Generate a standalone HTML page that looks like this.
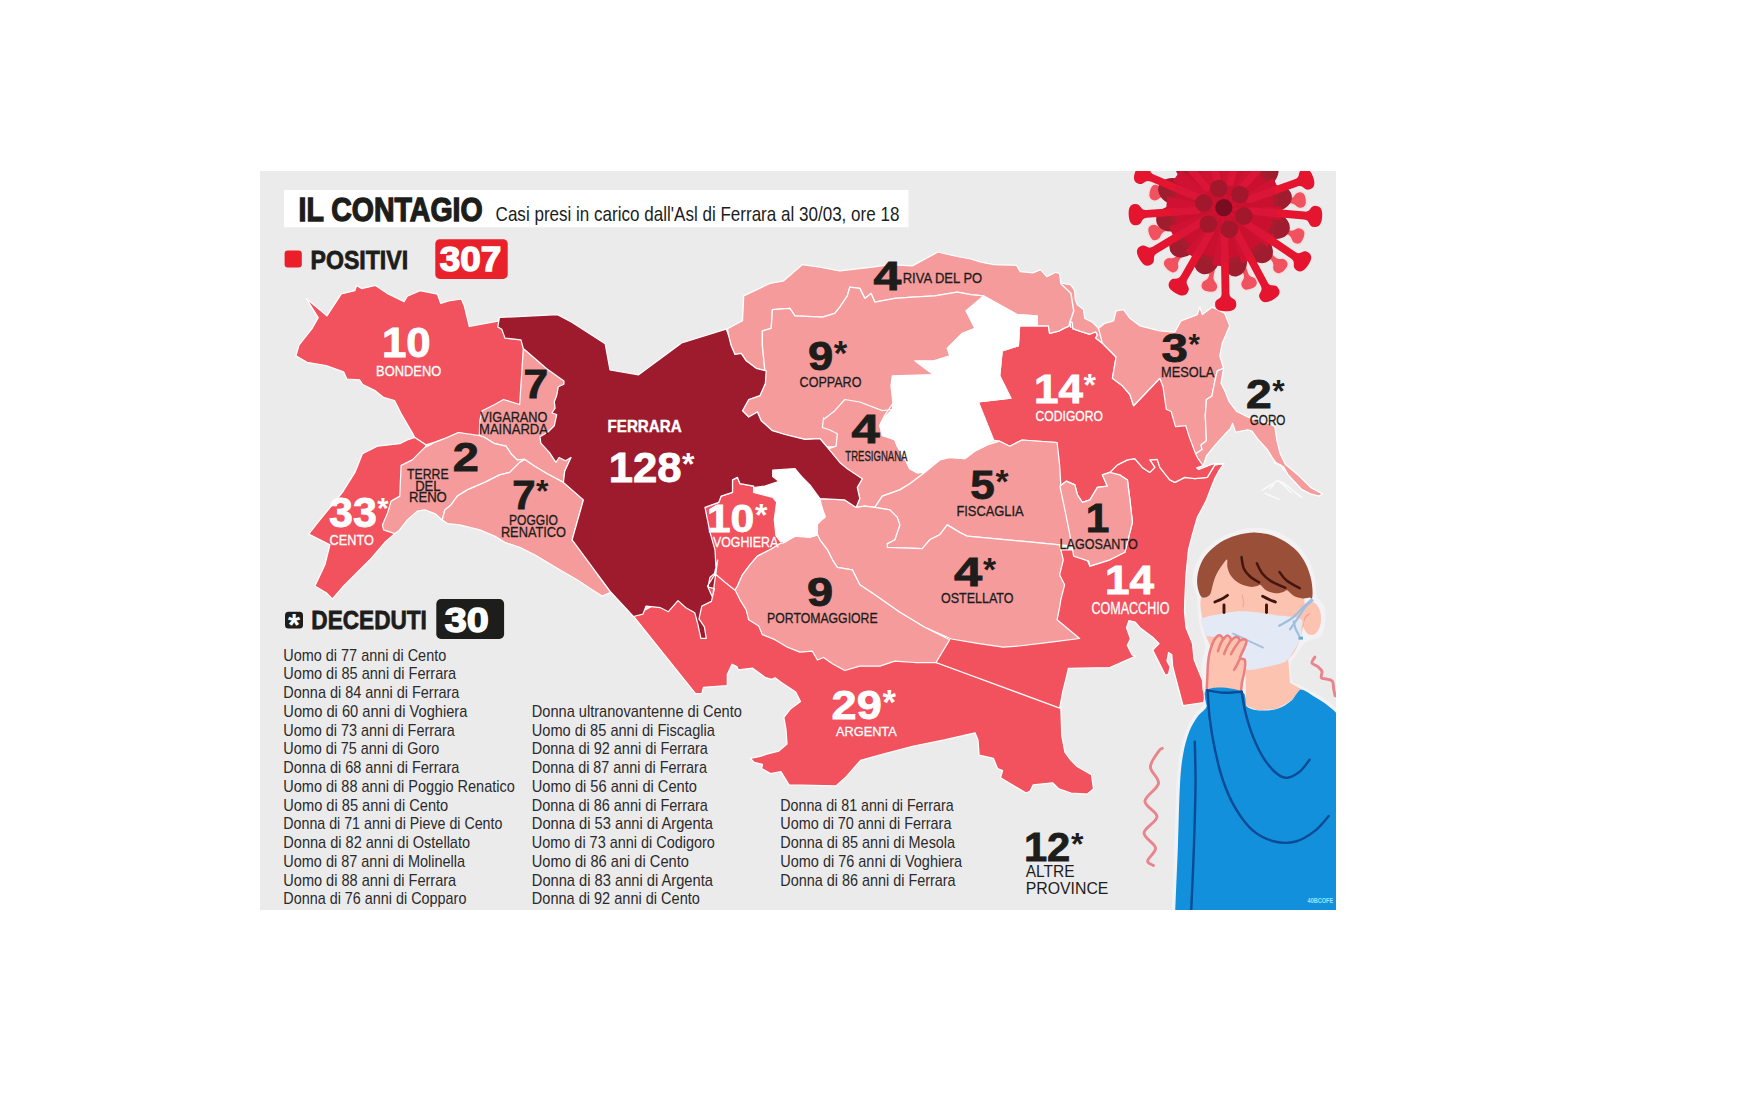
<!DOCTYPE html>
<html lang="it"><head><meta charset="utf-8"><title>Il contagio - Ferrara</title>
<style>
html,body{margin:0;padding:0;background:#fff;}
body{width:1762px;height:1106px;overflow:hidden;position:relative;font-family:"Liberation Sans",sans-serif;}
svg{position:absolute;left:0;top:0;display:block}
text{font-family:"Liberation Sans",sans-serif;}
.b{font-weight:bold}
</style></head><body>
<svg width="1762" height="1106" viewBox="0 0 1762 1106">
<defs><clipPath id="panel"><rect x="260" y="171" width="1076" height="739"/></clipPath></defs>
<rect x="0" y="0" width="1762" height="1106" fill="#ffffff"/>
<rect x="260" y="171" width="1076" height="739" fill="#ecebec"/>
<g clip-path="url(#panel)">
<g stroke="#ffffff" stroke-width="1.25" stroke-linejoin="round">
<polygon id="r-bondeno" fill="#f1525d" points="306.3,298.6 326.9,315.8 341.3,293.9 354.8,290.7 356.7,285.4 361.5,288.6 375.5,285.4 388.2,293.9 404.1,301.8 407.3,296.3 420,290.7 437.5,294.2 440.7,303.4 448.6,301 461.4,299 464.5,306.6 469.3,326.5 498,321.2 509.7,320.8 529.7,340.8 529.7,357 534.7,404.5 519.7,420.7 484.7,440 479.3,437.5 458.5,432.5 447.3,437.5 434.8,442 426.1,444.9 414.8,437.5 412,432.3 400.9,413.2 397.7,406.8 394.5,400.5 383.4,397.3 375.5,390.9 362.7,384.5 359.5,379.8 346.8,379 343.6,371.8 326.1,365.5 307,362.3 295.9,355.9 299.1,344.8 311.8,328.9 318.2,317.7"/>
<polygon id="r-cento" fill="#f1525d" points="362.4,453.7 377.4,446.2 399.8,443.7 407.3,440 414.8,437.5 426.1,444.9 419.8,464.9 409.8,499.9 399.8,529.9 394.8,533.6 384.9,542.3 369.9,559.8 354.9,574.8 342.4,587.3 332.4,599 326.2,592.8 314.9,586 324.9,564.8 329.9,544.8 308.7,534.1 319.9,519.9 342.4,492.4 354.9,472.4"/>
<polygon id="r-argenta" fill="#f1525d" points="600,574.3 633.4,616.5 663.6,599.8 701.8,599.8 701.8,560 743.2,560 779.9,543.6 799.9,574.8 949.7,639.7 936,662.5 1060.8,707.2 1061.8,735.8 1064.9,752.2 1071,760.3 1077.1,766.5 1091.5,774.6 1093.5,788.9 1087.4,794.1 1071,793 1058.8,788.9 1052.6,782.8 1033.2,784.9 1030.2,791 1026.1,793 1000.5,777.7 1002.6,770.6 997.5,768.5 993.4,758.3 979.1,755.2 978,739.9 975,732.8 944.3,739.9 913.7,746 883,754.2 860.6,760.3 846.3,776.7 836,785.9 789,784.9 780.9,771.6 770.6,773.6 761.5,768.5 762.5,764.4 754.3,762.4 750.2,758.3 760.4,756.3 766.6,754.2 778.8,751.1 787,744 786,729.7 783.9,717.4 790.1,709.3 800.5,701.6 795.7,692 781.4,682.5 775,677.7 771.8,679.3 765.5,677.7 752.7,668.2 738.4,669.8 736.8,666.6 732,664.2 727.3,674.5 727.3,685.7 703.4,687.3 701.8,693.6 695.5,693.6"/>
<polygon id="r-voghiera" fill="#f1525d" points="737.5,477.4 740,483.7 753.7,486.2 764.9,489.9 782.4,499.9 779.9,509.9 782.4,519.9 783.7,534.8 783.7,543.6 769.9,549.8 757.4,556.1 749.9,564.8 742.5,574.8 737.5,586 735,590.3 725,582.3 716.2,574.8 707.5,586 700,589.8 700,504.9 705,507.4 718.7,502.4 721.2,496.1 732.5,492.4 732.5,479.9"/>
<polygon id="r-comacchio" fill="#f1525d" points="1102.4,474.9 1109.9,472.4 1117.4,464.9 1127.4,459.9 1134.8,458.7 1142.3,467.4 1149.8,472.4 1154.8,467.4 1149.8,459.9 1157.3,459.4 1159.8,467.4 1169.8,479.9 1174.8,482.4 1184.8,477.4 1194.8,478.7 1207.3,477.4 1214.8,464.9 1223.8,463.6 1219.4,470.1 1215.1,477.7 1210.8,488.5 1206,501.1 1197.3,517.4 1192.3,534.8 1188.5,549.8 1186,574.8 1184.8,599.8 1184.5,611.8 1186.1,627.7 1192.5,643.6 1194.1,659.5 1200.5,675.5 1206.8,689.8 1203.6,702.5 1183,705.7 1175,675.5 1172.6,665.9 1171.8,654.8 1168.6,652.4 1167,661.1 1170.2,666.7 1168.6,673.9 1165.5,675.5 1159.1,662.7 1152.7,650 1159.1,643.6 1152.7,637.3 1140,627.7 1135.2,622.2 1128.9,620.6 1126.5,627.7 1130.5,638.9 1127.3,645.2 1132,654.8 1135.2,656.4 1109.8,667.5 1068.4,668.3 1066.8,675.5 1062.8,691.4 1059.7,708.1 936,662.5 949.7,624.7 1049.6,624.7 1049.6,549.8 1082.4,549.8 1089.9,566.1 1109.9,559.8 1124.9,552.3 1132.4,522.4 1129.9,499.9 1127.4,479.9 1119.9,474.9"/>
<polygon id="r-codigoro" fill="#f1525d" points="1019.6,325.8 1048.4,325.8 1049.6,333.3 1059.6,330.8 1063.3,328.6 1069,326.1 1069.6,321.6 1072.2,322.3 1072.8,328.6 1079.7,331.1 1089.9,334.3 1095.6,331.8 1097.5,334.9 1095.6,338.1 1102.4,343.3 1109.9,350.8 1116.1,357 1112.4,378.3 1122.4,385.8 1129.9,394.5 1133.6,405.7 1159.8,378.3 1182.6,401.7 1204.3,423.4 1206.4,456 1203.2,465.7 1196.7,467.9 1198.8,469.5 1210.8,464.6 1215.1,463.6 1223.8,463.6 1214.8,464.9 1207.3,477.4 1194.8,478.7 1184.8,477.4 1174.8,482.4 1169.8,479.9 1159.8,467.4 1157.3,459.4 1149.8,459.9 1154.8,467.4 1149.8,472.4 1142.3,467.4 1134.8,458.7 1127.4,459.9 1117.4,464.9 1109.9,472.4 1102.4,474.9 1107.4,486.2 1097.4,487.4 1089.9,499.9 1082.4,502.4 1077.4,494.9 1074.9,484.9 1066.2,481.2 1059.9,486.2 1049.9,474.9 1057.1,442.5 1022.1,440 1009.7,446.2 999.7,441.2 993.4,440 977.2,400 978.4,402 1010.9,398.2 999.7,375.8 1002.2,350.8 1018.4,345.8"/>
<polygon id="r-riva" fill="#f59b9c" points="727.5,328.8 742.5,320.8 743.7,295.9 769.9,283.4 783.7,280.9 802.4,264.6 819.9,267.1 839.8,270.9 872.3,267.1 889.8,264.6 912.3,265.9 938,252 957,256.5 970.9,259 981,262.2 993.7,264.7 1016.5,265.3 1020.3,271.6 1032.9,272.9 1040.5,269.7 1046.8,276.7 1055.7,272.3 1059.5,273.5 1060.8,283 1070.9,284.9 1074.7,290.6 1075.3,299.5 1077.2,304.6 1083.5,309.6 1084.8,318.5 1092.4,322.3 1097.5,327.3 1099.9,330.8 1102.4,343.3 1095.6,338.1 1097.5,334.9 1095.6,331.8 1089.9,334.3 1079.7,331.1 1072.8,328.6 1072.2,322.3 1069.6,321.6 1069,326.1 1063.3,328.6 1059.6,330.8 1049.6,333.3 1048.4,325.8 1037.1,325.8 1037.1,315.8 1017.1,314.6 983.4,295.9 970.9,294.6 957.2,292.1 934.7,295.9 912.3,297.1 894.8,298.4 874.8,302.1 871.1,293.4 864.8,298.4 859.8,288.4 849.8,287.1 847.3,295.9 839.8,307.1 834.8,313.3 822.4,317.1 794.9,315.8 789.9,308.3 772.4,309.6 771.2,328.3 762.4,330.8 762.4,345.8 764.9,370.8 756.2,368.3 746.2,360.8 741.2,353.3 735,354.5 731.2,345.8 728.7,335.8"/>
<polygon id="r-copparo" fill="#f59b9c" points="970.9,294.6 957.2,292.1 934.7,295.9 912.3,297.1 894.8,298.4 874.8,302.1 871.1,293.4 864.8,298.4 859.8,288.4 849.8,287.1 847.3,295.9 839.8,307.1 834.8,313.3 822.4,317.1 794.9,315.8 789.9,308.3 772.4,309.6 771.2,328.3 762.4,330.8 762.4,345.8 764.9,370.8 765.4,383.3 759.9,395.7 748.7,399.5 742.5,410.7 748.7,417 757.4,412 761.2,420.7 772.4,430.7 784.9,434.5 804.9,439.4 819.9,438.7 827.4,446.9 849.8,446.9 874.8,420.7 899.8,410.7 934.7,375.8 949.7,355.8 974.7,328.3 983.4,295.9"/>
<polygon id="r-tresignana" fill="#f59b9c" points="892.3,409.5 882.3,410.7 859.8,402 844.8,399.5 834.8,410.7 823.6,419.5 823.6,417.5 822.4,427.5 829.9,430 837.3,433.7 836.1,446.2 824.9,449.9 819.9,462.4 862.3,478.7 857.3,487.4 859.8,498.6 856.1,507.4 864.8,506.1 874.8,507.4 882.3,496.1 899.8,489.9 909.8,483.7 924.7,472.4 917.3,472.9 909.8,468.7 904.8,458.7 897.3,446.2 894.8,440 882.3,435 879.8,425 884.8,415 893.5,402.5"/>
<polygon id="r-mesola" fill="#f59b9c" points="1098.6,328.3 1104.9,323.3 1113.6,320.8 1116.1,310.8 1123.6,309.6 1129.9,318.3 1139.8,325.8 1159.8,330.8 1174.8,332.1 1181,320.8 1197.3,314.6 1199.8,307.1 1202.3,314.6 1212.3,307.1 1224.7,313.3 1229.7,325.8 1222.2,343.3 1219.8,355.8 1223.5,368.3 1217.3,370.8 1215.1,380 1211.8,396.3 1206.4,399.5 1205.3,415.8 1206.4,440.8 1201,445.1 1202.1,449.4 1195.6,453.8 1189.1,436.4 1185.8,425.6 1175.5,426.7 1171.2,411.5 1166.3,409.3 1163,386.5 1159.8,378.3 1133.6,405.7 1129.9,394.5 1122.4,385.8 1112.4,378.3 1116.1,357 1109.9,350.8 1102.4,343.3"/>
<polygon id="r-goro" fill="#f59b9c" points="1223.5,368.3 1221,383.3 1224.9,390.9 1229.2,401.7 1236.8,411.5 1247.7,416.9 1258.5,421.2 1269.4,423.4 1274.8,426.7 1277,440.8 1280.2,453.8 1285.6,464.6 1298.7,475.5 1310.6,487.4 1322.5,493.9 1319.3,496.1 1310.6,493.9 1301.9,489.6 1287.8,474.4 1283.5,466.8 1275.9,462.5 1272.6,458.1 1267.2,449.4 1257.4,438.6 1252,431 1247.7,429.9 1235.7,432.1 1232.5,423.4 1230.3,428.8 1224.9,434.3 1215.1,445.1 1206.4,456 1203.2,465.7 1197.7,458.1 1195.6,453.8 1202.1,449.4 1201,445.1 1206.4,440.8 1205.3,415.8 1206.4,399.5 1211.8,396.3 1215.1,380 1217.3,370.8"/>
<polygon id="r-fiscaglia" fill="#f59b9c" points="874.8,507.4 882.3,496.1 899.8,489.9 909.8,483.7 924.7,472.4 939.7,459.9 949.7,457.4 964.7,458.7 974.7,451.2 987.2,444.9 999.7,441.2 1009.7,446.2 1022.1,440 1057.1,442.5 1059.6,464.9 1060.8,484.9 1067.1,504.9 1072.1,524.9 1074.6,546.1 1059.6,544.8 967.2,536.1 959.7,532.4 947.2,524.9 939.7,534.8 929.7,539.8 922.2,548.6 887.3,547.3 887.3,543.6 894.8,539.8 897.3,532.4 899.8,524.9 897.3,517.4 889.8,509.9"/>
<polygon id="r-lagosanto" fill="#f59b9c" points="1059.9,486.2 1066.2,481.2 1074.9,484.9 1077.4,494.9 1082.4,502.4 1089.9,499.9 1097.4,487.4 1107.4,486.2 1102.4,474.9 1109.9,472.4 1119.9,474.9 1127.4,479.9 1129.9,499.9 1132.4,522.4 1124.9,552.3 1109.9,559.8 1089.9,566.1 1088.7,561.1 1073.7,556.1 1069.9,534.8 1064.9,509.9"/>
<polygon id="r-ostellato" fill="#f59b9c" points="819.9,498.6 844.8,499.9 856.1,507.4 864.8,506.1 874.8,507.4 889.8,509.9 897.3,517.4 899.8,524.9 897.3,532.4 894.8,539.8 887.3,543.6 887.3,547.3 922.2,548.6 929.7,539.8 939.7,534.8 947.2,524.9 959.7,532.4 967.2,536.1 1059.6,544.8 1063.3,559.8 1059.6,574.8 1064.6,584.8 1060.8,599.8 1059.6,607.3 1057.1,619.8 1079.6,638.5 1050.9,642.2 1019.1,646 1003.2,647.2 979.2,643.7 951.5,639 924.7,627.2 899.8,612.3 874.8,594.8 859.8,584.8 852.3,569.8 837.3,567.3 832.4,559.8 827.4,549.8 819.9,539.8 817.4,534.8 817.4,522.4 824.9,517.4 822.4,509.9"/>
<polygon id="r-portomaggiore" fill="#f59b9c" points="735,589.8 737.5,586 742.5,574.8 749.9,564.8 757.4,556.1 769.9,549.8 779.9,543.6 784.9,542.3 794.9,536.1 809.9,537.3 817.4,534.8 819.9,539.8 827.4,549.8 832.4,559.8 837.3,567.3 852.3,569.8 859.8,584.8 874.8,594.8 899.8,612.3 924.7,627.2 949.7,639.7 936,662.5 914.8,662.5 894.8,661.2 879.8,666.2 859.8,666.2 844.8,670.5 832.4,663.7 823.6,657.5 817.4,660 812.4,651.2 799.9,652.2 787.4,647.2 774.9,639.7 762.4,634.7 758.7,626 748.7,619.8 746.2,609.8 740,599.8"/>
<polygon id="r-vigarano" fill="#f59b9c" points="523.3,348.5 546.4,368.4 568.6,381.1 568.6,411.4 559.1,427.3 552.7,443.2 565.5,459.1 570.9,457.9 564.7,471.2 563.4,482.4 547.2,473.7 534.7,466.2 524.7,459.4 517.2,459.9 511,453.7 506,446.2 494.7,443.7 484.7,437.5 479.3,436 479.8,420.7 482.2,410.7 494.7,404.5 503.5,399.5 519.7,404.5"/>
<polygon id="r-terre" fill="#f59b9c" points="412.3,459.9 424.8,447.4 434.8,442.5 447.3,437.5 458.5,432.5 479.8,435.7 484.7,437.5 494.7,443.7 506,446.2 511,453.7 517.2,459.9 524.7,459.4 519.7,462.4 509.7,472.4 499.7,474.9 484.7,482.4 467.3,489.9 457.3,496.1 451,504.9 444.8,509.9 442.3,519.9 434.8,513.6 424.8,509.9 417.3,511.1 407.3,519.9 398.6,531.1 394.8,533.6 383.6,529.9 382.4,524.9 387.4,513.6 391.1,501.1 399.8,496.1 401.1,465.4"/>
<polygon id="r-poggio" fill="#f59b9c" points="524.7,459.4 534.7,466.2 547.2,473.7 563.4,482.4 583.4,499.9 572.1,539.8 579.6,547.3 589.6,562.3 599.6,577.3 610.9,592.3 602.1,596 592.1,589.8 577.1,579.8 559.7,569.8 547.2,562.3 534.7,554.8 519.7,547.3 504.7,542.3 494.7,536.1 479.8,529.9 459.8,524.9 447.3,523.6 442.3,519.9 444.8,509.9 451,504.9 457.3,496.1 467.3,489.9 484.7,482.4 499.7,474.9 509.7,472.4 519.7,462.4"/>
<polygon id="r-ferrara" fill="#9e1b2e" points="499.4,317.5 557.5,314.6 571.8,322.3 605.2,343.8 610,370 638.6,374.8 681.6,343 727.7,328.6 726.2,328.8 728.7,335.8 731.2,345.8 735,354.5 741.2,353.3 746.2,360.8 756.2,368.3 766.2,370.8 765.4,383.3 759.9,395.7 748.7,399.5 742.5,410.7 748.7,417 757.4,412 761.2,420.7 772.4,430.7 784.9,434.5 804.9,439.4 819.9,438.7 827.4,447.4 839.8,462.4 847.3,468.7 862.3,478.7 857.3,487.4 859.8,498.6 856.1,507.4 844.8,499.9 819.9,498.6 809.9,484.9 799.9,474.9 792.4,469.4 785.5,479.8 772.7,487.7 753.6,488.5 753.7,486.2 740,483.7 737.5,477.4 732.5,479.9 732.5,492.4 721.2,496.1 718.7,502.4 705,507.4 710,532.4 715,549.8 716.2,572.3 707.5,586 712.5,597.3 717.7,560 714.5,573.5 709.8,577.5 708.2,587 714.5,588.6 711.4,601.4 701.8,606.1 699,618.9 704.4,626.8 706.3,638.3 700.9,638.3 697.7,623.6 694.8,612.8 685.9,607.7 678,600.6 668.4,611.7 660.5,607.7 646.1,606.1 643,614.1 633.4,616.5 610.9,592.3 572.1,539.8 583.4,499.9 563.4,482.4 564.7,471.2 571,457.5 565.5,460.7 559.1,457.5 555.9,462.3 549.5,452.7 540.8,443.2 540,436.8 548,432 554.3,425.7 556.7,414.5 551.9,413 555.1,408.2 554.3,401.8 556.7,395.5 558.3,386.7 563.9,384.3 563.9,381.1 546.4,368.4 523.3,348.5 520.9,339.8 505,338.2 501.8,329.4 497.8,327"/>
<polygon id="r-jolanda" fill="#ffffff" points="983.4,295.9 1017.1,314.6 1037.1,315.8 1037.1,325.8 1019.6,325.8 1018.4,345.8 1002.2,350.8 999.7,375.8 1010.9,398.2 978.4,402 993.4,439.4 987.2,444.9 974.7,451.2 964.7,458.7 949.7,457.4 939.7,459.9 924.7,471.2 917.3,472.9 909.8,468.7 904.8,458.7 897.3,446.2 894.8,439.4 882.3,435.7 879.8,425.7 884.8,417 893.5,408.2 891,385.8 892.3,375.8 933.5,374.5 929.7,372 914.8,360.8 933.5,360.8 949.7,355.8 947.2,348.3 962.2,333.3 974.7,328.3 966,310.8 974.7,303.4"/>
<polygon id="r-masi" fill="#ffffff" points="772.7,470.2 795,468.6 807.7,484.5 818.9,498.9 825.2,516.4 817.3,524.3 816.5,535.5 807.7,537 799.8,534.7 785.5,540.2 780.7,541.8 775.9,535.5 774.3,519.5 776.7,502 772.7,497.3 753.6,492.5 753.6,487.7 764.8,486.1 779.1,481.4 772.7,476.6"/>
</g>
<g fill="none" stroke="#fbfafa" stroke-width="1.5" stroke-linejoin="round" stroke-linecap="round">
<polyline points="1262.3,490.1 1277.5,480.7 1284,483.1 1294.3,491.8 1301.9,497.7"/>
<polyline points="1265,493.4 1279.1,499.4"/>
<polyline points="1269.9,488.5 1273.7,484.4"/>
<polyline points="1273.7,462.7 1280.2,464.9 1284,470.3"/>
<polyline points="1278,480.4 1285.6,486.9 1291.1,492.8"/>
<polyline points="1060.8,283.7 1070.9,293.2 1073.7,310.9 1069.9,322.3 1070.9,327.3"/>
</g>
<g id="virus">
<path d="M1263.4,201.0 L1289.2,198.1 C1296.0,197.3 1292.3,192.2 1299.1,191.4 C1303.8,190.9 1305.9,193.9 1306.5,199.2 C1307.1,204.5 1305.8,208.0 1301.0,208.5 C1294.3,209.3 1296.7,203.5 1289.9,204.2 L1264.1,207.1 A3.1,3.1 0 0 1 1263.4,201.0Z" fill="#f0525f" stroke="#f6dfe1" stroke-width="1.6" stroke-linejoin="round"/>
<path d="M1262.6,219.5 L1289.3,229.5 C1295.7,231.8 1294.7,225.6 1301.1,228.0 C1305.5,229.6 1306.0,233.3 1304.1,238.3 C1302.3,243.3 1299.5,245.8 1295.1,244.1 C1288.7,241.7 1293.5,237.7 1287.1,235.3 L1260.4,225.3 A3.1,3.1 0 0 1 1262.6,219.5Z" fill="#f0525f" stroke="#f6dfe1" stroke-width="1.6" stroke-linejoin="round"/>
<path d="M1254.2,234.9 L1275.2,256.3 C1279.9,261.2 1281.7,255.2 1286.5,260.0 C1289.8,263.4 1288.7,266.9 1284.9,270.7 C1281.1,274.4 1277.5,275.5 1274.2,272.1 C1269.4,267.2 1275.5,265.5 1270.8,260.7 L1249.8,239.2 A3.1,3.1 0 0 1 1254.2,234.9Z" fill="#f0525f" stroke="#f6dfe1" stroke-width="1.6" stroke-linejoin="round"/>
<path d="M1239.6,245.4 L1248.7,272.5 C1250.8,278.9 1255.1,274.3 1257.2,280.7 C1258.7,285.2 1256.2,287.9 1251.1,289.6 C1246.1,291.3 1242.4,290.7 1240.9,286.2 C1238.8,279.7 1245.0,280.9 1242.8,274.4 L1233.8,247.4 A3.1,3.1 0 0 1 1239.6,245.4Z" fill="#f0525f" stroke="#f6dfe1" stroke-width="1.6" stroke-linejoin="round"/>
<path d="M1219.6,248.4 L1214.4,276.2 C1213.1,282.9 1219.1,280.9 1217.8,287.6 C1216.9,292.2 1213.4,293.3 1208.2,292.3 C1202.9,291.3 1200.0,289.0 1200.9,284.4 C1202.2,277.7 1207.0,281.7 1208.3,275.0 L1213.5,247.2 A3.1,3.1 0 0 1 1219.6,248.4Z" fill="#f0525f" stroke="#f6dfe1" stroke-width="1.6" stroke-linejoin="round"/>
<path d="M1199.0,239.9 L1180.6,259.6 C1175.9,264.6 1182.0,266.1 1177.4,271.1 C1174.2,274.6 1170.6,273.6 1166.7,269.9 C1162.8,266.3 1161.6,262.8 1164.8,259.3 C1169.5,254.4 1171.4,260.4 1176.0,255.4 L1194.5,235.6 A3.1,3.1 0 0 1 1199.0,239.9Z" fill="#f0525f" stroke="#f6dfe1" stroke-width="1.6" stroke-linejoin="round"/>
<path d="M1187.2,224.5 L1165.4,231.9 C1159.0,234.2 1163.7,238.4 1157.3,240.6 C1152.8,242.1 1150.1,239.6 1148.4,234.5 C1146.6,229.5 1147.2,225.9 1151.7,224.3 C1158.1,222.1 1157.0,228.3 1163.4,226.1 L1185.2,218.6 A3.1,3.1 0 0 1 1187.2,224.5Z" fill="#f0525f" stroke="#f6dfe1" stroke-width="1.6" stroke-linejoin="round"/>
<path d="M1184.3,202.5 L1164.8,198.0 C1158.2,196.5 1160.0,202.5 1153.3,201.0 C1148.7,199.9 1147.8,196.4 1149.0,191.2 C1150.2,186.0 1152.6,183.2 1157.2,184.3 C1163.8,185.8 1159.6,190.5 1166.2,192.0 L1185.7,196.5 A3.1,3.1 0 0 1 1184.3,202.5Z" fill="#f0525f" stroke="#f6dfe1" stroke-width="1.6" stroke-linejoin="round"/>
<path d="M1191.8,184.6 L1174.4,169.5 C1169.3,165.0 1168.0,171.2 1162.9,166.7 C1159.3,163.6 1160.1,160.0 1163.6,156.0 C1167.1,152.0 1170.5,150.6 1174.1,153.8 C1179.3,158.2 1173.4,160.4 1178.5,164.8 L1195.8,179.9 A3.1,3.1 0 0 1 1191.8,184.6Z" fill="#f0525f" stroke="#f6dfe1" stroke-width="1.6" stroke-linejoin="round"/>
<path d="M1247.9,176.3 L1263.0,158.9 C1267.5,153.8 1261.3,152.5 1265.8,147.4 C1268.9,143.8 1272.5,144.6 1276.5,148.1 C1280.5,151.6 1281.9,155.0 1278.7,158.6 C1274.3,163.8 1272.1,157.9 1267.7,163.0 L1252.6,180.3 A3.1,3.1 0 0 1 1247.9,176.3Z" fill="#f0525f" stroke="#f6dfe1" stroke-width="1.6" stroke-linejoin="round"/>
<ellipse cx="1273.2" cy="225.4" rx="17" ry="13" transform="rotate(19 1273.2 225.4)" fill="#a01d2f"/>
<ellipse cx="1258.1" cy="247.7" rx="17" ry="13" transform="rotate(49 1258.1 247.7)" fill="#a01d2f"/>
<ellipse cx="1233.9" cy="259.5" rx="17" ry="13" transform="rotate(79 1233.9 259.5)" fill="#a01d2f"/>
<ellipse cx="1207.1" cy="257.7" rx="17" ry="13" transform="rotate(109 1207.1 257.7)" fill="#a01d2f"/>
<ellipse cx="1184.8" cy="242.6" rx="17" ry="13" transform="rotate(139 1184.8 242.6)" fill="#a01d2f"/>
<ellipse cx="1173.0" cy="218.4" rx="17" ry="13" transform="rotate(169 1173.0 218.4)" fill="#a01d2f"/>
<ellipse cx="1174.8" cy="191.6" rx="17" ry="13" transform="rotate(199 1174.8 191.6)" fill="#a01d2f"/>
<ellipse cx="1189.9" cy="169.3" rx="17" ry="13" transform="rotate(229 1189.9 169.3)" fill="#a01d2f"/>
<ellipse cx="1214.1" cy="157.5" rx="17" ry="13" transform="rotate(259 1214.1 157.5)" fill="#a01d2f"/>
<ellipse cx="1240.9" cy="159.3" rx="17" ry="13" transform="rotate(289 1240.9 159.3)" fill="#a01d2f"/>
<ellipse cx="1263.2" cy="174.4" rx="17" ry="13" transform="rotate(319 1263.2 174.4)" fill="#a01d2f"/>
<ellipse cx="1275.0" cy="198.6" rx="17" ry="13" transform="rotate(349 1275.0 198.6)" fill="#a01d2f"/>
<circle cx="1224.0" cy="208.5" r="55" fill="#a81c30"/>
<circle cx="1224.0" cy="208.5" r="50" fill="#c9102f"/>
<path d="M1224.0,208.5 L1282.0,206.5 L1280.7,220.6Z" fill="#cf1233"/>
<path d="M1224.0,208.5 L1275.2,235.7 L1267.1,247.3Z" fill="#cf1233"/>
<path d="M1224.0,208.5 L1254.7,257.7 L1241.9,263.7Z" fill="#cf1233"/>
<path d="M1224.0,208.5 L1226.0,266.5 L1211.9,265.2Z" fill="#cf1233"/>
<path d="M1224.0,208.5 L1196.8,259.7 L1185.2,251.6Z" fill="#cf1233"/>
<path d="M1224.0,208.5 L1174.8,239.2 L1168.8,226.4Z" fill="#cf1233"/>
<path d="M1224.0,208.5 L1166.0,210.5 L1167.3,196.4Z" fill="#cf1233"/>
<path d="M1224.0,208.5 L1172.8,181.3 L1180.9,169.7Z" fill="#cf1233"/>
<path d="M1224.0,208.5 L1193.3,159.3 L1206.1,153.3Z" fill="#cf1233"/>
<path d="M1224.0,208.5 L1222.0,150.5 L1236.1,151.8Z" fill="#cf1233"/>
<path d="M1224.0,208.5 L1251.2,157.3 L1262.8,165.4Z" fill="#cf1233"/>
<path d="M1224.0,208.5 L1273.2,177.8 L1279.2,190.6Z" fill="#cf1233"/>
<path d="M1270.2,208.6 L1304.5,211.6 C1311.7,212.3 1309.1,205.3 1316.2,205.9 C1321.3,206.4 1322.7,210.5 1322.1,217.1 C1321.6,223.6 1319.4,227.5 1314.4,227.0 C1307.2,226.4 1311.0,220.0 1303.9,219.4 L1269.5,216.4 A3.9,3.9 0 0 1 1270.2,208.6Z" fill="#e5142f"/>
<line x1="1250.9" y1="210.9" x2="1273.8" y2="212.9" stroke="#da1538" stroke-width="7.4" stroke-linecap="round"/>
<path d="M1264.3,231.0 L1295.4,252.0 C1301.4,256.0 1302.4,248.6 1308.4,252.6 C1312.6,255.5 1311.8,259.8 1308.1,265.3 C1304.5,270.7 1300.7,273.0 1296.5,270.2 C1290.6,266.2 1297.0,262.5 1291.0,258.4 L1260.0,237.5 A3.9,3.9 0 0 1 1264.3,231.0Z" fill="#e5142f"/>
<line x1="1246.4" y1="223.6" x2="1265.5" y2="236.5" stroke="#da1538" stroke-width="7.4" stroke-linecap="round"/>
<path d="M1249.0,247.3 L1267.6,282.2 C1271.0,288.5 1275.4,282.5 1278.7,288.9 C1281.1,293.3 1278.4,296.8 1272.6,299.9 C1266.8,303.0 1262.4,303.3 1260.0,298.8 C1256.6,292.5 1264.1,292.2 1260.7,285.8 L1242.2,250.9 A3.9,3.9 0 0 1 1249.0,247.3Z" fill="#e5142f"/>
<line x1="1236.7" y1="232.3" x2="1247.5" y2="252.6" stroke="#da1538" stroke-width="7.4" stroke-linecap="round"/>
<path d="M1228.7,254.4 L1229.4,293.1 C1229.5,300.3 1236.1,297.0 1236.3,304.2 C1236.4,309.2 1232.4,311.1 1225.8,311.2 C1219.2,311.3 1215.2,309.6 1215.1,304.5 C1214.9,297.3 1221.7,300.5 1221.6,293.3 L1220.9,254.6 A3.9,3.9 0 0 1 1228.7,254.4Z" fill="#e5142f"/>
<line x1="1224.5" y1="235.5" x2="1224.9" y2="258.5" stroke="#da1538" stroke-width="7.4" stroke-linecap="round"/>
<path d="M1204.4,250.3 L1187.6,279.3 C1184.0,285.5 1191.4,286.1 1187.8,292.3 C1185.3,296.7 1180.9,296.2 1175.2,292.9 C1169.6,289.7 1167.0,286.1 1169.5,281.7 C1173.1,275.5 1177.3,281.6 1180.9,275.4 L1197.6,246.4 A3.9,3.9 0 0 1 1204.4,250.3Z" fill="#e5142f"/>
<line x1="1210.5" y1="231.9" x2="1199.0" y2="251.8" stroke="#da1538" stroke-width="7.4" stroke-linecap="round"/>
<path d="M1186.6,235.5 L1157.0,253.3 C1150.8,257.0 1157.1,261.1 1150.9,264.8 C1146.6,267.4 1143.0,264.9 1139.6,259.2 C1136.2,253.6 1135.7,249.2 1140.0,246.6 C1146.1,242.9 1146.8,250.3 1153.0,246.6 L1182.6,228.8 A3.9,3.9 0 0 1 1186.6,235.5Z" fill="#e5142f"/>
<line x1="1200.9" y1="222.4" x2="1181.1" y2="234.3" stroke="#da1538" stroke-width="7.4" stroke-linecap="round"/>
<path d="M1178.4,215.6 L1147.0,217.8 C1139.8,218.3 1143.5,224.8 1136.3,225.3 C1131.3,225.6 1129.2,221.7 1128.7,215.2 C1128.3,208.6 1129.8,204.5 1134.8,204.1 C1142.0,203.6 1139.2,210.5 1146.4,210.0 L1177.8,207.8 A3.9,3.9 0 0 1 1178.4,215.6Z" fill="#e5142f"/>
<line x1="1197.1" y1="210.4" x2="1174.1" y2="212.0" stroke="#da1538" stroke-width="7.4" stroke-linecap="round"/>
<path d="M1180.1,194.1 L1150.7,181.6 C1144.0,178.8 1144.4,186.2 1137.8,183.4 C1133.1,181.5 1133.1,177.0 1135.6,171.0 C1138.2,164.9 1141.4,161.9 1146.1,163.9 C1152.7,166.7 1147.1,171.6 1153.7,174.4 L1183.2,186.9 A3.9,3.9 0 0 1 1180.1,194.1Z" fill="#e5142f"/>
<line x1="1199.1" y1="198.0" x2="1178.0" y2="189.0" stroke="#da1538" stroke-width="7.4" stroke-linecap="round"/>
<path d="M1191.4,175.8 L1170.9,151.3 C1166.2,145.7 1163.2,152.5 1158.6,147.0 C1155.3,143.2 1157.3,139.2 1162.3,135.0 C1167.3,130.7 1171.6,129.5 1174.8,133.4 C1179.4,138.9 1172.2,140.7 1176.9,146.2 L1197.4,170.8 A3.9,3.9 0 0 1 1191.4,175.8Z" fill="#e5142f"/>
<line x1="1206.6" y1="187.8" x2="1191.9" y2="170.2" stroke="#da1538" stroke-width="7.4" stroke-linecap="round"/>
<path d="M1209.9,164.6 L1202.7,133.4 C1201.0,126.4 1195.2,131.0 1193.6,124.0 C1192.5,119.1 1196.0,116.4 1202.4,115.0 C1208.8,113.5 1213.1,114.3 1214.3,119.2 C1215.9,126.3 1208.6,124.6 1210.3,131.6 L1217.5,162.8 A3.9,3.9 0 0 1 1209.9,164.6Z" fill="#e5142f"/>
<line x1="1217.9" y1="182.2" x2="1212.8" y2="159.8" stroke="#da1538" stroke-width="7.4" stroke-linecap="round"/>
<path d="M1231.3,162.9 L1239.1,131.9 C1240.8,124.9 1233.5,126.4 1235.3,119.4 C1236.5,114.5 1240.8,113.8 1247.2,115.4 C1253.6,116.9 1257.1,119.7 1255.9,124.6 C1254.1,131.5 1248.4,126.8 1246.7,133.8 L1238.9,164.8 A3.9,3.9 0 0 1 1231.3,162.9Z" fill="#e5142f"/>
<line x1="1230.5" y1="182.3" x2="1236.1" y2="160.0" stroke="#da1538" stroke-width="7.4" stroke-linecap="round"/>
<path d="M1251.2,171.2 L1272.2,147.1 C1277.0,141.6 1269.8,139.7 1274.5,134.3 C1277.8,130.5 1282.0,131.7 1287.0,136.0 C1291.9,140.4 1293.8,144.4 1290.5,148.2 C1285.8,153.6 1282.8,146.8 1278.1,152.2 L1257.1,176.3 A3.9,3.9 0 0 1 1251.2,171.2Z" fill="#e5142f"/>
<line x1="1241.7" y1="188.1" x2="1256.8" y2="170.8" stroke="#da1538" stroke-width="7.4" stroke-linecap="round"/>
<path d="M1266.1,189.5 L1294.8,179.3 C1301.6,176.9 1296.3,171.6 1303.1,169.2 C1307.8,167.6 1310.9,170.8 1313.1,177.0 C1315.3,183.2 1314.9,187.5 1310.2,189.2 C1303.4,191.6 1304.2,184.2 1297.4,186.6 L1268.7,196.8 A3.9,3.9 0 0 1 1266.1,189.5Z" fill="#e5142f"/>
<line x1="1249.5" y1="199.5" x2="1271.1" y2="191.8" stroke="#da1538" stroke-width="7.4" stroke-linecap="round"/>
<circle cx="1218.8" cy="188.6" r="8.8" fill="#a3172c"/>
<circle cx="1239.8" cy="194.5" r="8.8" fill="#a3172c"/>
<circle cx="1243.8" cy="216.1" r="8.8" fill="#a3172c"/>
<circle cx="1229.3" cy="229.3" r="8.8" fill="#a3172c"/>
<circle cx="1208.3" cy="224.0" r="8.8" fill="#a3172c"/>
<circle cx="1203.8" cy="203.0" r="8.8" fill="#a3172c"/>
<circle cx="1223.8" cy="207.6" r="8.6" fill="#7a0c22"/>
</g>
<g id="person">
<path d="M1200.5,597.8 C1199.5,590.9 1195.8,585.9 1196,579.7 C1196.2,573.5 1197.9,566.6 1201.4,560.7 C1204.9,554.8 1210.9,548.8 1216.8,544.4 C1222.7,540.0 1230.4,536.7 1236.7,534.5 C1243.0,532.3 1248.5,531.2 1254.8,531.2 C1261.1,531.2 1268.2,532.0 1274.7,534.5 C1281.2,537.0 1288.4,541.4 1293.7,546.2 C1299.0,551.0 1303.3,557.8 1306.3,563.4 C1309.3,569.0 1310.5,574.0 1311.7,579.7 C1312.9,585.4 1312.0,593.3 1313.5,597.8 C1315.0,602.3 1319.4,602.9 1320.8,606.8 C1322.2,610.7 1322.2,616.8 1321.7,621.3 C1321.2,625.8 1321.1,630.9 1318.1,633.9 C1315.1,636.9 1307.8,636.0 1303.6,639.3 C1299.4,642.6 1295.4,649.9 1292.7,653.8 C1290.0,657.7 1287.9,658.1 1287.3,662.9 C1286.7,667.7 1287.0,678.3 1289.1,682.7 C1291.2,687.1 1295.7,686.7 1300,689.1 C1304.3,691.5 1310.3,694.3 1314.9,697 C1319.5,699.7 1323.5,702.1 1327.7,705.5 C1332.0,708.9 1334.4,710.8 1340.4,717.2 C1346.4,723.6 1358.1,700.4 1363.8,743.8 C1369.5,787.2 1406.1,938.6 1374.4,977.6 C1342.7,1016.6 1206.8,988.2 1173.6,977.6 C1140.4,967.0 1174.4,935.1 1175.1,913.8 C1175.8,892.5 1177.0,871.2 1177.8,850 C1178.6,828.8 1179.0,802.2 1179.9,786.3 C1180.8,770.4 1181.5,763.6 1183.1,754.4 C1184.7,745.2 1187.0,737.4 1189.5,731 C1192.0,724.6 1195.1,720.4 1198,716.1 C1200.9,711.9 1205.5,709.8 1206.9,705.5 C1208.3,701.2 1206.7,693.1 1206.5,690.2 C1206.3,687.3 1206.2,692.5 1205.9,688.2 C1205.7,684.0 1204.5,671.6 1205,664.7 C1205.5,657.8 1209.2,653.8 1208.7,646.6 C1208.2,639.4 1203.7,629.4 1202.3,621.3 C1200.9,613.2 1201.5,604.7 1200.5,597.8Z" fill="#f2f1f4" stroke="#f2f1f4" stroke-width="7" stroke-linecap="round" stroke-linejoin="round"/>
<path d="M1173.6,977.6 C1140.4,967.0 1174.4,935.1 1175.1,913.8 C1175.8,892.5 1177.0,871.2 1177.8,850 C1178.6,828.8 1179.0,802.2 1179.9,786.3 C1180.8,770.4 1181.5,763.6 1183.1,754.4 C1184.7,745.2 1187.0,737.4 1189.5,731 C1192.0,724.6 1195.1,720.3 1198,716.1 C1200.9,711.9 1205.4,710.2 1206.9,705.9 C1208.4,701.6 1201.1,692.6 1206.9,690.2 C1212.7,687.8 1235.1,689.2 1241.6,691.7 C1248.1,694.2 1243.1,702.4 1245.8,705.5 C1248.5,708.6 1252.3,709.6 1257.5,710.2 C1262.7,710.8 1271.0,710.7 1276.7,709.1 C1282.4,707.5 1287.6,703.9 1291.5,700.6 C1295.4,697.4 1296.1,690.2 1300,689.6 C1303.9,689.0 1310.3,694.4 1314.9,697 C1319.5,699.6 1323.5,702.1 1327.7,705.5 C1332.0,708.9 1334.4,710.8 1340.4,717.2 C1346.4,723.6 1358.1,700.4 1363.8,743.8 C1369.5,787.2 1406.1,938.6 1374.4,977.6 C1342.7,1016.6 1206.8,988.2 1173.6,977.6Z" fill="#1290dc"/>
<polygon fill="#fdc3b1" points="1245.7,661 1288.2,659.2 1290,682.7 1300.9,689.1 1300,689.6 1291.5,700.6 1276.7,709.1 1257.5,710.2 1245.8,705.5 1245.7,690"/>
<ellipse cx="1311.5" cy="618.5" rx="9.5" ry="16.5" fill="#fdc3b1"/>
<path d="M1309,614 C1308.2,614.8 1305.5,616.5 1304.5,618.6 C1303.5,620.7 1303.0,625.4 1302.7,626.7" fill="None" stroke="#f09a94" stroke-width="1.3" stroke-linecap="round" stroke-linejoin="round"/>
<path d="M1201.4,595.9 C1199.0,605.4 1201.5,612.0 1202.3,618.6 C1203.0,625.2 1203.8,630.1 1205.9,635.7 C1208.0,641.3 1210.8,647.5 1215,652 C1219.2,656.5 1224.4,660.5 1231.3,662.9 C1238.2,665.3 1247.6,666.8 1256.6,666.5 C1265.6,666.2 1278.3,665.5 1285.5,661 C1292.7,656.5 1296.8,649.2 1300,639.3 C1303.2,629.4 1305.7,613.8 1304.5,601.4 C1303.3,589.0 1300.7,573.4 1292.7,565.2 C1284.7,557.1 1269.2,553.1 1256.6,552.5 C1243.9,551.9 1226.0,554.4 1216.8,561.6 C1207.6,568.8 1203.8,586.4 1201.4,595.9Z" fill="#fdc3b1"/>
<path d="M1202.3,618.6 C1205.2,616.2 1214.4,615.2 1220.4,614 C1226.4,612.8 1232.5,611.6 1238.5,611.3 C1244.5,611.0 1250.6,611.6 1256.6,612.2 C1262.6,612.8 1267.5,613.8 1274.7,614.9 C1281.9,616.0 1295.5,616.3 1300,618.6 C1304.5,620.9 1301.4,625.0 1301.4,628.5 C1301.4,632.0 1301.3,635.5 1300,639.3 C1298.7,643.1 1296.1,647.4 1293.7,651.1 C1291.3,654.8 1289.9,658.8 1285.5,661.4 C1281.1,664.0 1273.7,665.4 1267.4,666.8 C1261.1,668.2 1252.0,670.7 1247.5,669.7 C1243.0,668.7 1243.0,664.9 1240.3,661 C1237.6,657.1 1235.5,650.5 1231.3,646.6 C1227.1,642.7 1219.2,639.3 1215,637.5 C1210.8,635.7 1207.9,637.2 1205.9,635.7 C1203.9,634.2 1203.8,631.4 1203.2,628.5 C1202.6,625.6 1199.4,621.0 1202.3,618.6Z" fill="#e3e9f5"/>
<path d="M1233.1,633.6 C1235.5,634.7 1242.5,638.0 1247.5,640.3 C1252.5,642.6 1260.3,646.3 1262.9,647.5" fill="None" stroke="#a9c2e2" stroke-width="2.0" stroke-linecap="round" stroke-linejoin="round"/>
<path d="M1279.2,625.8 C1281.5,624.4 1288.6,620.8 1292.7,617.6 C1296.8,614.4 1300.4,609.8 1303.6,606.8 C1306.8,603.8 1310.3,600.8 1311.7,599.6" fill="None" stroke="#9fbfe0" stroke-width="2.2" stroke-linecap="round" stroke-linejoin="round"/>
<path d="M1290,629.4 C1291.4,627.4 1295.6,621.4 1298.2,617.6 C1300.8,613.8 1303.0,609.6 1305.4,606.8 C1307.8,603.9 1311.4,601.5 1312.6,600.5" fill="None" stroke="#9fbfe0" stroke-width="2.2" stroke-linecap="round" stroke-linejoin="round"/>
<path d="M1293.7,621.3 C1294.0,622.5 1294.6,626.1 1295.5,628.5 C1296.4,630.9 1298.5,634.5 1299.1,635.7" fill="None" stroke="#9fbfe0" stroke-width="2.2" stroke-linecap="round" stroke-linejoin="round"/>
<rect x="1298.5" y="636.6" width="4.5" height="3" fill="#6aa6d8"/>
<path d="M1200.4,595.5 C1199.1,593.2 1197.5,588.0 1197.2,583.8 C1196.9,579.6 1197.3,574.7 1198.6,570.2 C1199.9,565.7 1201.9,560.8 1204.9,556.6 C1207.9,552.4 1212.1,548.2 1216.6,544.9 C1221.1,541.6 1226.7,538.8 1232,536.8 C1237.3,534.8 1244.1,533.8 1248.3,533.1 C1252.5,532.4 1253.5,532.4 1257.3,532.7 C1261.1,533.0 1266.4,533.5 1270.9,534.9 C1275.4,536.3 1280.3,538.7 1284.5,541.3 C1288.7,543.9 1292.7,546.7 1296.2,550.3 C1299.7,553.9 1302.9,558.5 1305.3,563 C1307.7,567.5 1309.5,572.9 1310.7,577.4 C1311.9,581.9 1312.3,586.6 1312.5,590.1 C1312.7,593.6 1312.5,597.2 1312,598.4 C1311.5,599.6 1311.4,597.5 1309.8,597.5 C1308.2,597.5 1305.2,598.7 1302.5,598.4 C1299.8,598.1 1296.0,597.1 1293.5,595.7 C1291.0,594.4 1289.0,590.9 1287.2,590.3 C1285.4,589.7 1284.6,591.8 1282.6,592.3 C1280.6,592.8 1278.1,593.5 1275.4,593.2 C1272.7,592.9 1268.9,591.9 1266.4,590.5 C1263.9,589.1 1262.0,585.7 1260.5,584.9 C1259.0,584.1 1259.0,585.6 1257.3,585.9 C1255.6,586.2 1253.1,587.2 1250.1,586.8 C1247.1,586.3 1242.4,585.0 1239.2,583.2 C1236.0,581.4 1233.0,578.6 1231.1,576 C1229.1,573.4 1228.2,570.2 1227.5,567.5 C1226.8,564.8 1227.8,560.1 1227,559.5 C1226.2,558.9 1224.7,561.7 1223,564.1 C1221.3,566.5 1218.3,570.7 1216.6,574 C1214.9,577.3 1214.0,580.7 1213,584 C1212.0,587.3 1211.6,591.6 1210.3,593.9 C1209.0,596.1 1206.6,597.2 1204.9,597.5 C1203.2,597.8 1201.7,597.8 1200.4,595.5Z" fill="#9a4f38"/>
<path d="M1241.5,557.1 C1241.9,559.0 1242.4,565.2 1243.8,568.4 C1245.2,571.6 1247.5,574.2 1250.1,576.5 C1252.6,578.8 1257.6,581.4 1259.1,582.4" fill="None" stroke="#45160f" stroke-width="2.5" stroke-linecap="round" stroke-linejoin="round"/>
<path d="M1256.9,563.4 C1257.7,565.0 1259.6,569.9 1261.9,572.9 C1264.2,575.9 1267.0,578.6 1270.9,581.1 C1274.8,583.6 1283.0,586.7 1285.4,587.8" fill="None" stroke="#45160f" stroke-width="2.5" stroke-linecap="round" stroke-linejoin="round"/>
<path d="M1279.5,572 C1280.6,573.4 1282.9,577.5 1286.3,580.2 C1289.7,582.9 1297.5,586.9 1299.8,588.3" fill="None" stroke="#45160f" stroke-width="2.5" stroke-linecap="round" stroke-linejoin="round"/>
<path d="M1214.8,602 C1215.9,601.5 1219.1,600.4 1221.2,599.3 C1223.3,598.2 1226.5,596.0 1227.5,595.3" fill="None" stroke="#3c1410" stroke-width="2.8" stroke-linecap="round" stroke-linejoin="round"/>
<path d="M1262.6,596.2 C1263.6,596.7 1266.5,598.3 1268.6,599.3 C1270.7,600.3 1274.3,601.5 1275.4,602" fill="None" stroke="#3c1410" stroke-width="2.8" stroke-linecap="round" stroke-linejoin="round"/>
<line x1="1224.0" y1="605.0" x2="1224.0" y2="612.6" stroke="#3c1410" stroke-width="2.9" stroke-linecap="round"/>
<line x1="1266.5" y1="605.0" x2="1266.5" y2="612.6" stroke="#3c1410" stroke-width="2.9" stroke-linecap="round"/>
<path d="M1242.1,595 C1242.3,596.1 1243.4,599.4 1243.6,601.4 C1243.8,603.4 1243.1,605.9 1243,606.8" fill="None" stroke="#f2a79c" stroke-width="1.2" stroke-linecap="round" stroke-linejoin="round"/>
<path d="M1206.9,691.2 C1206.5,688.2 1207.1,682.5 1207.3,677.9 C1207.5,673.3 1207.6,667.8 1208,663.4 C1208.4,659.0 1208.8,655.6 1209.8,651.8 C1210.8,648.0 1212.4,643.3 1213.8,640.6 C1215.2,637.9 1216.9,636.4 1218.1,635.6 C1219.3,634.9 1220.3,635.5 1221.2,636.1 C1222.1,636.7 1222.3,639.1 1223.2,639 C1224.1,638.9 1225.7,635.9 1226.8,635.6 C1227.9,635.3 1229.2,636.4 1229.9,637.1 C1230.7,637.8 1230.4,639.7 1231.3,639.7 C1232.2,639.7 1234.3,637.3 1235.5,637 C1236.7,636.7 1237.8,637.2 1238.5,637.8 C1239.2,638.4 1239.2,640.2 1240,640.4 C1240.8,640.6 1242.4,639.1 1243.5,639.2 C1244.6,639.3 1246.3,639.7 1246.5,641.1 C1246.7,642.5 1245.3,645.4 1244.5,647.5 C1243.7,649.6 1242.2,652.2 1241.4,654 C1240.7,655.8 1239.8,657.5 1240,658.3 C1240.2,659.1 1241.6,658.5 1242.4,658.9 C1243.2,659.3 1244.8,658.8 1245.1,660.7 C1245.4,662.7 1245.0,667.0 1244.5,670.6 C1244.0,674.2 1242.6,678.8 1242,682.2 C1241.4,685.6 1241.5,688.9 1240.9,691.2 C1240.3,693.5 1243.6,695.1 1238.4,695.9 C1233.2,696.7 1214.8,696.7 1209.5,695.9 C1204.2,695.1 1207.3,694.2 1206.9,691.2Z" fill="#fdc2b0" stroke="#ea7f80" stroke-width="2.5" stroke-linecap="round" stroke-linejoin="round"/>
<path d="M1223.1,639.2 C1222.6,640.2 1220.8,643.3 1220,645.3 C1219.2,647.3 1218.3,650.2 1218,651.2" fill="None" stroke="#ea7f80" stroke-width="2.5" stroke-linecap="round" stroke-linejoin="round"/>
<path d="M1231.2,639.8 C1230.5,641.1 1228.0,645.1 1226.8,647.5 C1225.6,649.9 1224.5,652.9 1224.1,654" fill="None" stroke="#ea7f80" stroke-width="2.5" stroke-linecap="round" stroke-linejoin="round"/>
<path d="M1239.8,640.5 C1239.0,641.7 1236.3,645.2 1234.8,647.5 C1233.3,649.8 1231.6,653.0 1231,654.1" fill="None" stroke="#ea7f80" stroke-width="2.5" stroke-linecap="round" stroke-linejoin="round"/>
<path d="M1240,658.5 C1239.5,659.5 1238.0,662.9 1237,664.8 C1236.0,666.7 1234.6,669.0 1234.1,669.9" fill="None" stroke="#ea7f80" stroke-width="2.5" stroke-linecap="round" stroke-linejoin="round"/>
<path d="M1206.9,690.2 C1212.1,685.4 1235.0,687.7 1241.6,691.7 C1248.2,695.7 1244.4,706.4 1246.5,714 C1248.6,721.6 1251.4,730.1 1254.3,737.4 C1257.2,744.7 1264.8,747.3 1263.9,757.6 C1263.0,767.9 1254.7,793.5 1249,799 C1243.3,804.5 1235.2,797.6 1229.9,790.5 C1224.6,783.4 1220.4,768.2 1217.1,756.5 C1213.8,744.8 1212.0,731.4 1210.3,720.4 C1208.6,709.4 1201.7,695.0 1206.9,690.2Z" fill="#1290dc"/>
<path d="M1207.6,690.6 C1207.9,695.2 1208.5,708.4 1209.7,718.3 C1210.9,728.2 1212.7,739.5 1215,750.1 C1217.3,760.7 1220.0,772.1 1223.5,782 C1227.0,791.9 1231.3,801.5 1236.3,809.6 C1241.3,817.8 1246.9,825.6 1253.3,830.9 C1259.7,836.2 1267.4,839.7 1274.5,841.5 C1281.6,843.3 1289.1,843.3 1295.8,841.5 C1302.5,839.7 1309.4,835.1 1314.9,830.9 C1320.4,826.6 1326.4,818.5 1328.7,816" fill="None" stroke="#0b4a94" stroke-width="2.4" stroke-linecap="round" stroke-linejoin="round"/>
<path d="M1241.6,691.7 C1242.3,695.4 1243.8,706.4 1245.8,714 C1247.8,721.6 1250.3,730.0 1253.3,737.4 C1256.3,744.8 1260.0,752.6 1263.9,758.6 C1267.8,764.6 1272.8,770.3 1276.7,773.5 C1280.6,776.7 1283.4,778.1 1287.3,777.8 C1291.2,777.4 1296.3,774.4 1300,771.4 C1303.7,768.4 1308.0,761.7 1309.6,759.7" fill="None" stroke="#0b4a94" stroke-width="2.4" stroke-linecap="round" stroke-linejoin="round"/>
<path d="M1194.8,741.6 C1194.9,749.0 1195.7,768.2 1195.5,786.3 C1195.3,804.4 1194.5,829.3 1193.8,850 C1193.1,870.7 1191.6,900.5 1191.2,910.6" fill="None" stroke="#0b4a94" stroke-width="2.4" stroke-linecap="round" stroke-linejoin="round"/>
<path d="M1206.9,690.2 C1209.7,690.6 1217.7,692.5 1223.5,692.8 C1229.3,693.0 1238.6,691.9 1241.6,691.7" fill="None" stroke="#0b4a94" stroke-width="2.4" stroke-linecap="round" stroke-linejoin="round"/>
<path d="M1162.3,748.4 C1161.7,748.9 1160.7,748.1 1158.7,751.2 C1156.7,754.3 1150.4,761.7 1150.4,767.1 C1150.4,772.5 1159.4,777.8 1158.5,783.5 C1157.6,789.2 1145.2,795.6 1144.9,801.1 C1144.7,806.6 1157.2,811.4 1157,816.7 C1156.8,822.0 1144.2,827.8 1144,833 C1143.8,838.2 1154.9,843.3 1155.5,847.9 C1156.1,852.5 1147.9,857.8 1147.6,860.7 C1147.2,863.6 1152.4,864.7 1153.4,865.5" fill="None" stroke="#e9838c" stroke-width="2.9" stroke-linecap="round" stroke-linejoin="round"/>
<path d="M1314.8,657.1 C1314.3,658.1 1311.4,661.3 1311.9,662.9 C1312.5,664.5 1316.4,665.4 1318.1,666.8 C1319.8,668.2 1321.5,669.7 1322,671.5 C1322.5,673.3 1320.5,676.4 1321.3,677.7 C1322.1,679.0 1325.2,678.5 1327.1,679.1 C1329.0,679.7 1331.4,679.8 1332.5,681.3 C1333.6,682.8 1333.2,685.8 1333.6,688.2 C1334.0,690.6 1334.8,694.5 1335.1,695.8" fill="None" stroke="#e9838c" stroke-width="2.9" stroke-linecap="round" stroke-linejoin="round"/>
</g>
</g>
<rect x="284" y="190" width="624.5" height="37.2" fill="#ffffff"/>
<text x="298.5" y="220.6" font-size="33.6" textLength="184.2" lengthAdjust="spacingAndGlyphs" fill="#1d1d1b" class="b" stroke="#1d1d1b" stroke-width="1.34">IL CONTAGIO</text>
<text x="495.6" y="220.5" font-size="20.2" textLength="403.8" lengthAdjust="spacingAndGlyphs" fill="#1d1d1b">Casi presi in carico dall'Asl di Ferrara al 30/03, ore 18</text>
<rect x="284.6" y="250.4" width="17.2" height="17" rx="3.2" fill="#ea1f29"/>
<text x="310.5" y="268.7" font-size="25.4" textLength="97.6" lengthAdjust="spacingAndGlyphs" fill="#1d1d1b" class="b" stroke="#1d1d1b" stroke-width="0.76">POSITIVI</text>
<rect x="435.3" y="239.3" width="72.4" height="39.6" rx="4.5" fill="#e9212b"/>
<text x="439.7" y="271.0" font-size="34.9" textLength="61.7" lengthAdjust="spacingAndGlyphs" fill="#ffffff" class="b" stroke="#ffffff" stroke-width="1.40">307</text>
<rect x="285" y="611.8" width="18" height="16.7" rx="3.5" fill="#1d1d1b"/>
<text x="294" y="635.6" font-size="31" text-anchor="middle" fill="#fff" class="b">*</text>
<text x="311.3" y="628.6" font-size="26.2" textLength="115.6" lengthAdjust="spacingAndGlyphs" fill="#1d1d1b" class="b" stroke="#1d1d1b" stroke-width="0.78">DECEDUTI</text>
<rect x="436.3" y="599.1" width="67.8" height="39.9" rx="4.8" fill="#1d1d1b"/>
<text x="444.8" y="632.3" font-size="35.3" textLength="44.1" lengthAdjust="spacingAndGlyphs" fill="#ffffff" class="b" stroke="#ffffff" stroke-width="1.41">30</text>
<text x="382.0" y="357.0" font-size="41.7" textLength="48.7" lengthAdjust="spacingAndGlyphs" fill="#ffffff" class="b" stroke="#ffffff" stroke-width="0.92">10</text>
<text x="376.1" y="376.3" font-size="15.3" textLength="65.1" lengthAdjust="spacingAndGlyphs" fill="#ffffff" stroke="#ffffff" stroke-width="0.3">BONDENO</text>
<text x="523.5" y="397.5" font-size="40.7" textLength="24.6" lengthAdjust="spacingAndGlyphs" fill="#1d1d1b" class="b" stroke="#1d1d1b" stroke-width="0.90">7</text>
<text x="480.2" y="421.6" font-size="14.8" textLength="67.3" lengthAdjust="spacingAndGlyphs" fill="#1d1d1b" stroke="#1d1d1b" stroke-width="0.3">VIGARANO</text>
<text x="479.0" y="434.3" font-size="15.0" textLength="69.0" lengthAdjust="spacingAndGlyphs" fill="#1d1d1b" stroke="#1d1d1b" stroke-width="0.3">MAINARDA</text>
<text x="607.6" y="431.5" font-size="15.7" textLength="74.0" lengthAdjust="spacingAndGlyphs" fill="#ffffff" class="b" stroke="#ffffff" stroke-width="0.35">FERRARA</text>
<text x="608.8" y="482.4" font-size="41.7" textLength="72.8" lengthAdjust="spacingAndGlyphs" fill="#ffffff" class="b" stroke="#ffffff" stroke-width="0.83">128</text>
<text x="682.1" y="474.7" font-size="32.0" fill="#ffffff" class="b">*</text>
<text x="452.8" y="470.7" font-size="41.0" textLength="26.1" lengthAdjust="spacingAndGlyphs" fill="#1d1d1b" class="b" stroke="#1d1d1b" stroke-width="0.90">2</text>
<text x="407.0" y="479.4" font-size="14.5" textLength="41.6" lengthAdjust="spacingAndGlyphs" fill="#1d1d1b" stroke="#1d1d1b" stroke-width="0.3">TERRE</text>
<text x="415.2" y="490.6" font-size="14.5" textLength="25.4" lengthAdjust="spacingAndGlyphs" fill="#1d1d1b" stroke="#1d1d1b" stroke-width="0.3">DEL</text>
<text x="409.0" y="501.9" font-size="14.5" textLength="37.8" lengthAdjust="spacingAndGlyphs" fill="#1d1d1b" stroke="#1d1d1b" stroke-width="0.3">RENO</text>
<text x="512.2" y="509.4" font-size="41.0" textLength="23.3" lengthAdjust="spacingAndGlyphs" fill="#1d1d1b" class="b" stroke="#1d1d1b" stroke-width="0.82">7</text>
<text x="536.0" y="502.2" font-size="32.0" fill="#1d1d1b" class="b">*</text>
<text x="508.9" y="525.4" font-size="14.5" textLength="49.1" lengthAdjust="spacingAndGlyphs" fill="#1d1d1b" stroke="#1d1d1b" stroke-width="0.3">POGGIO</text>
<text x="500.9" y="536.8" font-size="14.5" textLength="65.1" lengthAdjust="spacingAndGlyphs" fill="#1d1d1b" stroke="#1d1d1b" stroke-width="0.3">RENATICO</text>
<text x="329.1" y="527.4" font-size="41.9" textLength="47.9" lengthAdjust="spacingAndGlyphs" fill="#ffffff" class="b" stroke="#ffffff" stroke-width="0.84">33</text>
<text x="377.3" y="517.6" font-size="29.0" fill="#ffffff" class="b">*</text>
<text x="329.6" y="545.3" font-size="15.3" textLength="44.2" lengthAdjust="spacingAndGlyphs" fill="#ffffff" stroke="#ffffff" stroke-width="0.3">CENTO</text>
<text x="873.5" y="290.4" font-size="41.1" textLength="27.8" lengthAdjust="spacingAndGlyphs" fill="#1d1d1b" class="b" stroke="#1d1d1b" stroke-width="0.90">4</text>
<text x="902.7" y="282.6" font-size="14.1" textLength="79.5" lengthAdjust="spacingAndGlyphs" fill="#1d1d1b" stroke="#1d1d1b" stroke-width="0.3">RIVA DEL PO</text>
<text x="807.9" y="369.5" font-size="40.6" textLength="25.3" lengthAdjust="spacingAndGlyphs" fill="#1d1d1b" class="b" stroke="#1d1d1b" stroke-width="0.81">9</text>
<text x="833.8" y="364.5" font-size="34.7" fill="#1d1d1b" class="b">*</text>
<text x="799.6" y="387.0" font-size="14.5" textLength="61.8" lengthAdjust="spacingAndGlyphs" fill="#1d1d1b" stroke="#1d1d1b" stroke-width="0.3">COPPARO</text>
<text x="1033.9" y="402.5" font-size="40.7" textLength="49.0" lengthAdjust="spacingAndGlyphs" fill="#ffffff" class="b" stroke="#ffffff" stroke-width="0.81">14</text>
<text x="1083.4" y="395.5" font-size="32.0" fill="#ffffff" class="b">*</text>
<text x="1035.6" y="420.7" font-size="15.3" textLength="67.3" lengthAdjust="spacingAndGlyphs" fill="#ffffff" stroke="#ffffff" stroke-width="0.3">CODIGORO</text>
<text x="851.6" y="443.0" font-size="40.4" textLength="28.2" lengthAdjust="spacingAndGlyphs" fill="#1d1d1b" class="b" stroke="#1d1d1b" stroke-width="0.89">4</text>
<text x="845.3" y="460.7" font-size="13.8" textLength="62.2" lengthAdjust="spacingAndGlyphs" fill="#1d1d1b" stroke="#1d1d1b" stroke-width="0.3">TRESIGNANA</text>
<text x="1161.6" y="362.0" font-size="39.8" textLength="26.4" lengthAdjust="spacingAndGlyphs" fill="#1d1d1b" class="b" stroke="#1d1d1b" stroke-width="0.80">3</text>
<text x="1188.4" y="353.7" font-size="29.3" fill="#1d1d1b" class="b">*</text>
<text x="1161.0" y="377.0" font-size="14.5" textLength="53.3" lengthAdjust="spacingAndGlyphs" fill="#1d1d1b" stroke="#1d1d1b" stroke-width="0.3">MESOLA</text>
<text x="1246.0" y="408.2" font-size="39.8" textLength="25.7" lengthAdjust="spacingAndGlyphs" fill="#1d1d1b" class="b" stroke="#1d1d1b" stroke-width="0.80">2</text>
<text x="1272.3" y="401.8" font-size="32.0" fill="#1d1d1b" class="b">*</text>
<text x="1249.7" y="424.5" font-size="14.5" textLength="35.8" lengthAdjust="spacingAndGlyphs" fill="#1d1d1b" stroke="#1d1d1b" stroke-width="0.3">GORO</text>
<text x="706.7" y="531.9" font-size="39.2" textLength="47.6" lengthAdjust="spacingAndGlyphs" fill="#ffffff" class="b" stroke="#ffffff" stroke-width="0.78">10</text>
<text x="755.0" y="525.9" font-size="32.0" fill="#ffffff" class="b">*</text>
<text x="712.9" y="547.3" font-size="14.5" textLength="65.3" lengthAdjust="spacingAndGlyphs" fill="#ffffff" stroke="#ffffff" stroke-width="0.3">VOGHIERA</text>
<text x="970.2" y="498.6" font-size="39.8" textLength="24.5" lengthAdjust="spacingAndGlyphs" fill="#1d1d1b" class="b" stroke="#1d1d1b" stroke-width="0.80">5</text>
<text x="995.4" y="493.3" font-size="33.6" fill="#1d1d1b" class="b">*</text>
<text x="956.4" y="516.1" font-size="14.5" textLength="67.3" lengthAdjust="spacingAndGlyphs" fill="#1d1d1b" stroke="#1d1d1b" stroke-width="0.3">FISCAGLIA</text>
<text x="1085.8" y="531.9" font-size="41.1" textLength="23.6" lengthAdjust="spacingAndGlyphs" fill="#1d1d1b" class="b" stroke="#1d1d1b" stroke-width="0.90">1</text>
<text x="1059.6" y="548.6" font-size="15.3" textLength="78.1" lengthAdjust="spacingAndGlyphs" fill="#1d1d1b" stroke="#1d1d1b" stroke-width="0.3">LAGOSANTO</text>
<text x="954.0" y="586.0" font-size="39.8" textLength="28.2" lengthAdjust="spacingAndGlyphs" fill="#1d1d1b" class="b" stroke="#1d1d1b" stroke-width="0.80">4</text>
<text x="982.9" y="580.7" font-size="33.6" fill="#1d1d1b" class="b">*</text>
<text x="940.9" y="602.8" font-size="14.5" textLength="72.6" lengthAdjust="spacingAndGlyphs" fill="#1d1d1b" stroke="#1d1d1b" stroke-width="0.3">OSTELLATO</text>
<text x="807.1" y="606.0" font-size="41.0" textLength="26.1" lengthAdjust="spacingAndGlyphs" fill="#1d1d1b" class="b" stroke="#1d1d1b" stroke-width="0.90">9</text>
<text x="767.1" y="623.0" font-size="14.5" textLength="110.5" lengthAdjust="spacingAndGlyphs" fill="#1d1d1b" stroke="#1d1d1b" stroke-width="0.3">PORTOMAGGIORE</text>
<text x="1104.9" y="594.3" font-size="41.0" textLength="49.0" lengthAdjust="spacingAndGlyphs" fill="#ffffff" class="b" stroke="#ffffff" stroke-width="0.90">14</text>
<text x="1091.5" y="613.5" font-size="15.6" textLength="77.9" lengthAdjust="spacingAndGlyphs" fill="#ffffff" stroke="#ffffff" stroke-width="0.3">COMACCHIO</text>
<text x="831.6" y="718.7" font-size="40.0" textLength="50.2" lengthAdjust="spacingAndGlyphs" fill="#ffffff" class="b" stroke="#ffffff" stroke-width="0.80">29</text>
<text x="882.5" y="714.1" font-size="34.7" fill="#ffffff" class="b">*</text>
<text x="836.0" y="735.6" font-size="13.7" textLength="60.7" lengthAdjust="spacingAndGlyphs" fill="#ffffff" stroke="#ffffff" stroke-width="0.3">ARGENTA</text>
<text x="1023.9" y="861.0" font-size="40.0" textLength="46.4" lengthAdjust="spacingAndGlyphs" fill="#1d1d1b" class="b" stroke="#1d1d1b" stroke-width="0.80">12</text>
<text x="1070.9" y="854.5" font-size="32.0" fill="#1d1d1b" class="b">*</text>
<text x="1025.7" y="877.2" font-size="16.3" textLength="49.0" lengthAdjust="spacingAndGlyphs" fill="#1d1d1b">ALTRE</text>
<text x="1025.7" y="893.5" font-size="16.3" textLength="82.7" lengthAdjust="spacingAndGlyphs" fill="#1d1d1b">PROVINCE</text>
<text x="283.3" y="660.5" font-size="16.4" textLength="162.9" lengthAdjust="spacingAndGlyphs" fill="#2a2a2a">Uomo di 77 anni di Cento</text>
<text x="283.3" y="679.2" font-size="16.4" textLength="172.9" lengthAdjust="spacingAndGlyphs" fill="#2a2a2a">Uomo di 85 anni di Ferrara</text>
<text x="283.3" y="698.0" font-size="16.4" textLength="176.1" lengthAdjust="spacingAndGlyphs" fill="#2a2a2a">Donna di 84 anni di Ferrara</text>
<text x="283.3" y="716.8" font-size="16.4" textLength="184.1" lengthAdjust="spacingAndGlyphs" fill="#2a2a2a">Uomo di 60 anni di Voghiera</text>
<text x="283.3" y="735.5" font-size="16.4" textLength="171.6" lengthAdjust="spacingAndGlyphs" fill="#2a2a2a">Uomo di 73 anni di Ferrara</text>
<text x="283.3" y="754.2" font-size="16.4" textLength="155.9" lengthAdjust="spacingAndGlyphs" fill="#2a2a2a">Uomo di 75 anni di Goro</text>
<text x="283.3" y="773.0" font-size="16.4" textLength="176.1" lengthAdjust="spacingAndGlyphs" fill="#2a2a2a">Donna di 68 anni di Ferrara</text>
<text x="283.3" y="791.8" font-size="16.4" textLength="231.5" lengthAdjust="spacingAndGlyphs" fill="#2a2a2a">Uomo di 88 anni di Poggio Renatico</text>
<text x="283.3" y="810.5" font-size="16.4" textLength="164.9" lengthAdjust="spacingAndGlyphs" fill="#2a2a2a">Uomo di 85 anni di Cento</text>
<text x="283.3" y="829.2" font-size="16.4" textLength="219.1" lengthAdjust="spacingAndGlyphs" fill="#2a2a2a">Donna di 71 anni di Pieve di Cento</text>
<text x="283.3" y="848.0" font-size="16.4" textLength="186.8" lengthAdjust="spacingAndGlyphs" fill="#2a2a2a">Donna di 82 anni di Ostellato</text>
<text x="283.3" y="866.8" font-size="16.4" textLength="181.8" lengthAdjust="spacingAndGlyphs" fill="#2a2a2a">Uomo di 87 anni di Molinella</text>
<text x="283.3" y="885.5" font-size="16.4" textLength="172.9" lengthAdjust="spacingAndGlyphs" fill="#2a2a2a">Uomo di 88 anni di Ferrara</text>
<text x="283.3" y="904.2" font-size="16.4" textLength="183.1" lengthAdjust="spacingAndGlyphs" fill="#2a2a2a">Donna di 76 anni di Copparo</text>
<text x="531.8" y="716.8" font-size="16.4" textLength="210.1" lengthAdjust="spacingAndGlyphs" fill="#2a2a2a">Donna ultranovantenne di Cento</text>
<text x="531.8" y="735.5" font-size="16.4" textLength="183.1" lengthAdjust="spacingAndGlyphs" fill="#2a2a2a">Uomo di 85 anni di Fiscaglia</text>
<text x="531.8" y="754.2" font-size="16.4" textLength="176.1" lengthAdjust="spacingAndGlyphs" fill="#2a2a2a">Donna di 92 anni di Ferrara</text>
<text x="531.8" y="773.0" font-size="16.4" textLength="175.1" lengthAdjust="spacingAndGlyphs" fill="#2a2a2a">Donna di 87 anni di Ferrara</text>
<text x="531.8" y="791.8" font-size="16.4" textLength="165.1" lengthAdjust="spacingAndGlyphs" fill="#2a2a2a">Uomo di 56 anni di Cento</text>
<text x="531.8" y="810.5" font-size="16.4" textLength="176.1" lengthAdjust="spacingAndGlyphs" fill="#2a2a2a">Donna di 86 anni di Ferrara</text>
<text x="531.8" y="829.2" font-size="16.4" textLength="181.1" lengthAdjust="spacingAndGlyphs" fill="#2a2a2a">Donna di 53 anni di Argenta</text>
<text x="531.8" y="848.0" font-size="16.4" textLength="183.1" lengthAdjust="spacingAndGlyphs" fill="#2a2a2a">Uomo di 73 anni di Codigoro</text>
<text x="531.8" y="866.8" font-size="16.4" textLength="157.1" lengthAdjust="spacingAndGlyphs" fill="#2a2a2a">Uomo di 86 ani di Cento</text>
<text x="531.8" y="885.5" font-size="16.4" textLength="181.1" lengthAdjust="spacingAndGlyphs" fill="#2a2a2a">Donna di 83 anni di Argenta</text>
<text x="531.8" y="904.2" font-size="16.4" textLength="168.1" lengthAdjust="spacingAndGlyphs" fill="#2a2a2a">Donna di 92 anni di Cento</text>
<text x="780.3" y="810.5" font-size="16.4" textLength="173.3" lengthAdjust="spacingAndGlyphs" fill="#2a2a2a">Donna di 81 anni di Ferrara</text>
<text x="780.3" y="829.2" font-size="16.4" textLength="171.1" lengthAdjust="spacingAndGlyphs" fill="#2a2a2a">Uomo di 70 anni di Ferrara</text>
<text x="780.3" y="848.0" font-size="16.4" textLength="174.8" lengthAdjust="spacingAndGlyphs" fill="#2a2a2a">Donna di 85 anni di Mesola</text>
<text x="780.3" y="866.8" font-size="16.4" textLength="181.8" lengthAdjust="spacingAndGlyphs" fill="#2a2a2a">Uomo di 76 anni di Voghiera</text>
<text x="780.3" y="885.5" font-size="16.4" textLength="175.3" lengthAdjust="spacingAndGlyphs" fill="#2a2a2a">Donna di 86 anni di Ferrara</text>
<text x="1307.6" y="902.9" font-size="6.4" textLength="25.6" lengthAdjust="spacingAndGlyphs" fill="#9be6ff" class="b">40BCOFE</text>
</svg></body></html>
